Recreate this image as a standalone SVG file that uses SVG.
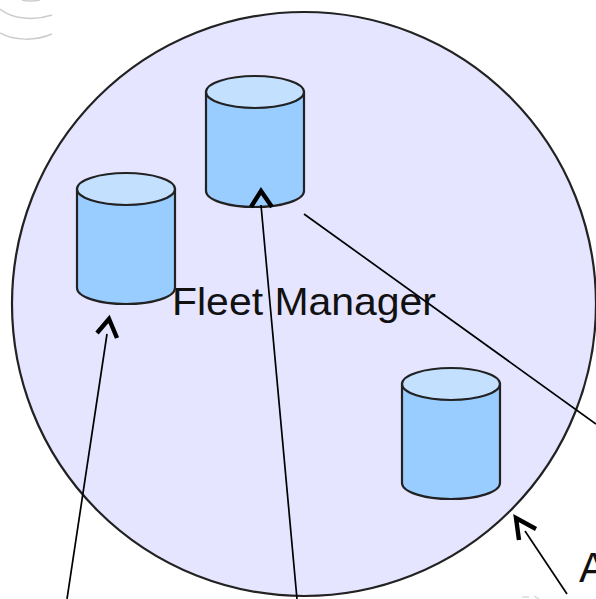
<svg xmlns="http://www.w3.org/2000/svg" width="596" height="599" viewBox="0 0 596 599">
<style>
.body{fill:#99ccff;stroke:#222;stroke-width:2.2}
.top{fill:#c4e0ff;stroke:#222;stroke-width:2.2}
.line{fill:none;stroke:#000;stroke-width:1.7}
.head{fill:none;stroke:#000;stroke-width:4.4}
.smudge{fill:none;stroke:#ccc;stroke-width:1.5}
text{font-family:"Liberation Sans",Arial,sans-serif;fill:#111}
</style>
<defs>
<g id="cyl">
<path class="body" d="M-49-1V98C-49 107-27 114 0 114S49 107 49 98V-1Z"/>
<ellipse class="top" cx="0" cy="-1" rx="49" ry="16"/>
</g>
</defs>
<g id="background-marks">
<path class="smudge" d="M0 9C12 19 34 21 52 15"/>
<path class="smudge" d="M0 33C14 41 36 41 52 34"/>
<path class="smudge" d="M22 0Q30 2 40 0"/>
<path d="M522 597h7M534 596l5 3" fill="none" stroke="#ddd" stroke-width="1.5"/>
</g>
<g id="fleet-manager">
<circle cx="304" cy="304" r="292" fill="#e5e5ff" stroke="#222" stroke-width="2.2"/>
<text x="172" y="315" font-size="39" textLength="264" lengthAdjust="spacingAndGlyphs">Fleet Manager</text>
</g>
<g id="store-1"><use href="#cyl" x="126" y="190"/></g>
<g id="store-2"><use href="#cyl" x="255" y="93"/></g>
<g id="store-3"><use href="#cyl" x="451" y="385"/></g>
<g id="connectors">
<path class="line" d="M67 599L107 334"/>
<path class="head" d="M97 333L109 319L117 338"/>
<path class="line" d="M297 599L261 205"/>
<path class="head" d="M251 207L261 191L272 207"/>
<path class="line" d="M596 424L304 214"/>
<path class="line" d="M567 594L525 531"/>
<path class="head" d="M519 540L516 518L536 529"/>
</g>
<g id="cut-label"><text x="579" y="582" font-size="42">A</text></g>
</svg>
